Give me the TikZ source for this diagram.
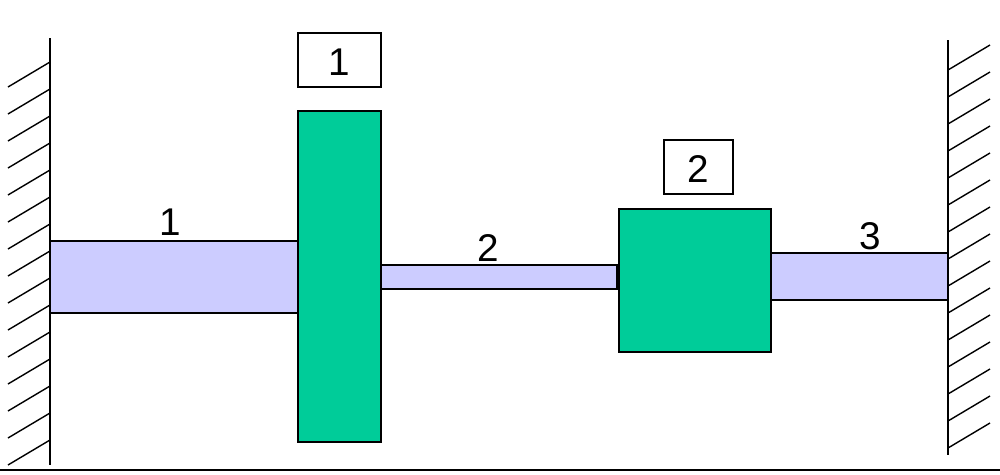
\documentclass[tikz,border=0pt]{standalone}
\usepackage{fontspec}
\setmainfont{Liberation Sans}
\definecolor{shaft}{HTML}{CCCCFF}
\definecolor{disk}{HTML}{00CC99}
\begin{document}
\begin{tikzpicture}[x=0.02cm,y=-0.02cm,
  shaftbox/.style={draw=black,fill=shaft,line width=0.6pt},
  diskbox/.style={draw=black,fill=disk,line width=0.6pt},
  lbl/.style={font=\fontsize{22}{26}\selectfont,inner sep=0pt},
  tag/.style={draw=black,line width=0.6pt,fill=white}]
\useasboundingbox (0,0) rectangle (1000,474);
\draw[line width=1pt] (50,38) -- (50,465);
\foreach \y in {62,89,...,440} \draw[line width=0.8pt] (8,\y+25) -- (50,\y);
\draw[line width=1pt] (948,40) -- (948,455);
\foreach \y in {45,72,...,430} \draw[line width=0.8pt] (948,\y+25) -- (990,\y);
\draw[line width=1pt] (0,470) -- (1000,470);
\draw[shaftbox] (50,241) rectangle (298,313);
\draw[diskbox] (298,111) rectangle (381,442);
\draw[shaftbox] (381,265) rectangle (617,289);
\draw[diskbox] (619,209) rectangle (771,352);
\draw[shaftbox] (771,253) rectangle (948,300);
\draw[tag] (298,33) rectangle (381,87);
\node[lbl] (d1) at (339.5,62) {1};
\draw[tag] (664,140) rectangle (733,194);
\node[lbl] (d2) at (698.5,169) {2};
\node[lbl] (s1) at (170,222) {1};
\node[lbl] (s2) at (488,248) {2};
\node[lbl] (s3) at (870,236) {3};
\end{tikzpicture}
\end{document}
